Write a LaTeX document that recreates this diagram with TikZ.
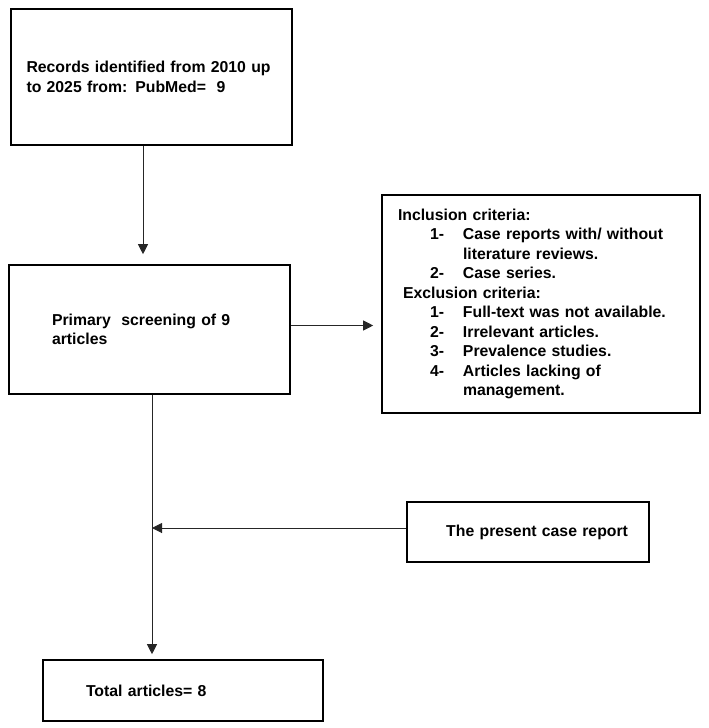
\documentclass[tikz,border=0pt]{standalone}
\usepackage{fontspec}
\setmainfont{Liberation Sans}
\usetikzlibrary{arrows.meta}

\begin{document}
\begin{tikzpicture}[x=1pt, y=-1pt,
    flowbox/.style={draw=black, line width=1.6pt, rectangle, inner sep=0pt,
        font=\fontsize{15.8pt}{19.5pt}\selectfont\bfseries, align=left},
    flowarrow/.style={draw=black!85, line width=1pt, -{Triangle[length=10pt, width=10pt]}}
]
    \useasboundingbox (0,0) rectangle (709,728);

    % Boxes
    \node[flowbox, minimum width=281pt, minimum height=136pt, text width=250pt] (rec) at (151.5,77)
        {Records identified from 2010 up\\to 2025 from: PubMed=\ \ 9};
    \node[flowbox, minimum width=281pt, minimum height=129pt, text width=195pt] (scr) at (149.5,329.5)
        {Primary\ \ screening of 9\\articles};
    \node[flowbox, minimum width=318pt, minimum height=218pt, text width=286pt] (crit) at (541,304)
        {Inclusion criteria:\\
         \hspace*{32pt}\makebox[33pt][l]{1-}Case reports with/ without\\
         \hspace*{65pt}literature reviews.\\
         \hspace*{32pt}\makebox[33pt][l]{2-}Case series.\\
         \hspace*{5pt}Exclusion criteria:\\
         \hspace*{32pt}\makebox[33pt][l]{1-}Full-text was not available.\\
         \hspace*{32pt}\makebox[33pt][l]{2-}Irrelevant articles.\\
         \hspace*{32pt}\makebox[33pt][l]{3-}Prevalence studies.\\
         \hspace*{32pt}\makebox[33pt][l]{4-}Articles lacking of\\
         \hspace*{65pt}management.};
    \node[flowbox, minimum width=242pt, minimum height=60pt, text width=200pt, align=right] (pres) at (528,532)
        {The present case report};
    \node[flowbox, minimum width=280pt, minimum height=61pt, text width=194pt] (tot) at (183,690.5)
        {Total articles=\ 8};

    % Connectors
    \coordinate (recB) at ([xshift=-8.5pt]rec.south);
    \coordinate (scrR) at ([yshift=4pt]scr.east);
    \coordinate (scrB) at ([xshift=2.5pt]scr.south);
    \coordinate (presL) at ([yshift=4pt]pres.west);

    \draw[flowarrow, shorten >=10pt] (recB) -- (recB |- scr.north);
    \draw[flowarrow, shorten >=8pt] (scrR) -- (scrR -| crit.west);
    \draw[flowarrow, shorten >=5pt] (scrB) -- (scrB |- tot.north);
    \draw[flowarrow] (presL) -- (presL -| scrB);
\end{tikzpicture}
\end{document}
